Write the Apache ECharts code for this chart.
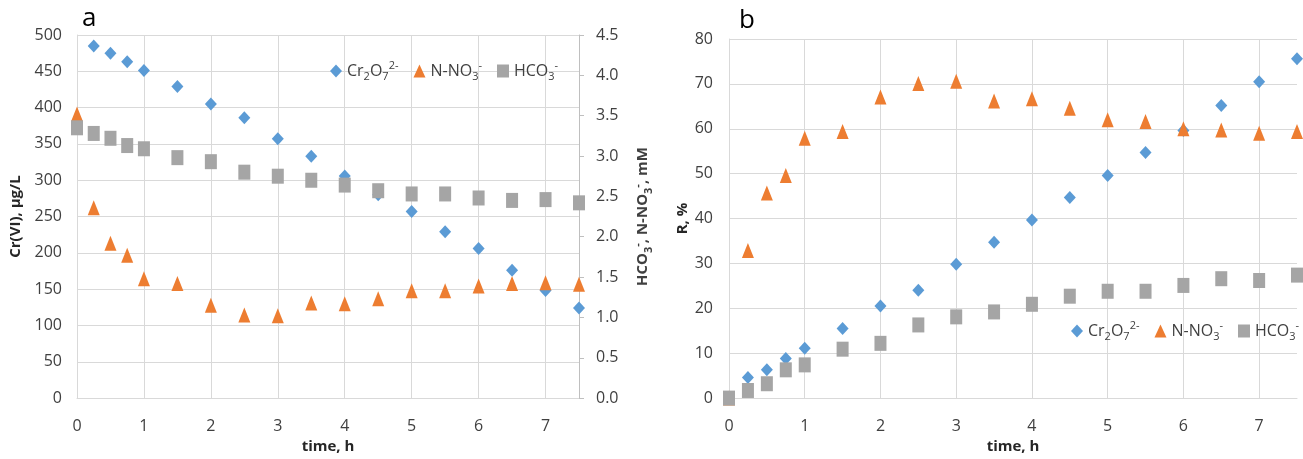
<!DOCTYPE html>
<html>
<head>
<meta charset="utf-8">
<script src="https://cdn.jsdelivr.net/npm/echarts@6/dist/echarts.min.js"></script>
<style>
  html, body { margin: 0; padding: 0; background: #fff; }
  #chart { width: 1303px; height: 459px; }
</style>
</head>
<body>
<div id="chart"></div>
<script>
// sampling times, h
const hours = [0, 0.25, 0.5, 0.75, 1, 1.5, 2, 2.5, 3, 3.5, 4, 4.5, 5, 5.5, 6, 6.5, 7, 7.5]

// panel a: concentrations
const crConc = [null, 485, 475, 463, 451, 429, 405, 386, 357, 333, 306, 280, 257, 229, 206, 176, 148, 124] // µg/L
const no3Conc = [3.52, 2.36, 1.92, 1.77, 1.48, 1.42, 1.15, 1.03, 1.02, 1.18, 1.17, 1.23, 1.33, 1.33, 1.39, 1.42, 1.43, 1.41] // mM
const hco3Conc = [3.35, 3.28, 3.22, 3.13, 3.09, 2.98, 2.93, 2.80, 2.75, 2.70, 2.64, 2.57, 2.53, 2.53, 2.48, 2.45, 2.46, 2.42] // mM

// panel b: removal, %
const crR = [0, 4.6, 6.3, 8.8, 11.1, 15.5, 20.5, 24.0, 29.8, 34.7, 39.7, 44.7, 49.6, 54.7, 59.6, 65.2, 70.5, 75.6]
const no3R = [0, 32.9, 45.7, 49.6, 57.9, 59.4, 67.1, 70.1, 70.6, 66.2, 66.7, 64.6, 62.0, 61.6, 60.0, 59.7, 59.0, 59.4]
const hco3R = [0, 1.7, 3.2, 6.3, 7.4, 10.9, 12.2, 16.3, 18.1, 19.2, 20.9, 22.7, 23.8, 23.8, 25.1, 26.6, 26.2, 27.4]

const seriesNames = ['Cr2O7', 'N-NO3', 'HCO3']
const legendText = {
  'Cr2O7': '{t|Cr}{sub|2}{t|O}{sub|7}{sup|2-}',
  'N-NO3': '{t|N-NO}{sub|3}{sup|-}',
  'HCO3': '{t|HCO}{sub|3}{sup|-}',
}

const FONT = 'Open Sans'
const GRID = '#D9D9D9'
const LABEL = '#404040'
const colors = ['#5B9BD5', '#ED7D31', '#A5A5A5']
const symbols = ['diamond', 'triangle', 'rect']
const sizes = [[12, 13], [12, 15], [12, 15]]

const pairs = (ys) => hours.map((h, i) => [h, ys[i]]).filter((p) => p[1] != null)

const richText = (size, weight) => ({
  t: { fontFamily: FONT, fontSize: size, fontWeight: weight, color: LABEL, lineHeight: 22 },
  sub: { fontFamily: FONT, fontSize: 11, fontWeight: weight, color: LABEL, verticalAlign: 'bottom', lineHeight: 22 },
  sup: { fontFamily: FONT, fontSize: 11, fontWeight: weight, color: LABEL, verticalAlign: 'top', lineHeight: 22 },
})

const xAxisFor = (gridIndex) => ({
  type: 'value',
  gridIndex,
  min: 0,
  max: 7.5,
  interval: 1,
  name: 'time, h',
  nameLocation: 'middle',
  nameGap: 40,
  nameTextStyle: { fontFamily: FONT, fontSize: 15, fontWeight: 'bold', color: '#262626' },
  axisLine: { show: true, lineStyle: { color: GRID } },
  axisTick: { show: false },
  axisLabel: { fontFamily: FONT, fontSize: 16, color: LABEL, margin: 20, showMaxLabel: false },
  splitLine: { show: true, showMaxLine: false, lineStyle: { color: GRID } },
})

const legendFor = (left, top) => ({
  data: seriesNames,
  left,
  top,
  width: 260,
  padding: 0,
  itemWidth: 12,
  itemHeight: 13,
  itemGap: 15,
  selectedMode: false,
  formatter: (n) => legendText[n],
  textStyle: { fontFamily: FONT, fontSize: 16, color: LABEL, rich: richText(16, 'normal') },
})

const chart = echarts.init(document.getElementById('chart'), null, { renderer: 'canvas' })

const symbolSeries = (name, i, data, xAxisIndex, yAxisIndex) => ({
  name,
  type: 'scatter',
  xAxisIndex,
  yAxisIndex,
  data,
  symbol: symbols[i],
  symbolSize: sizes[i],
  clip: false,
  itemStyle: { color: colors[i], opacity: 1 },
})

const option = {
  animation: false,
  backgroundColor: '#fff',
  color: colors,
  title: [
    { text: 'a', left: 82, top: 6, padding: 0, textStyle: { fontFamily: FONT, fontSize: 26, fontWeight: 'normal', color: '#000' } },
    { text: 'b', left: 739, top: 8, padding: 0, textStyle: { fontFamily: FONT, fontSize: 26, fontWeight: 'normal', color: '#000' } },
  ],
  legend: [legendFor(330, 60), legendFor(1071, 320)],
  grid: [
    { left: 77, right: 724, top: 35, bottom: 60 },
    { left: 729, right: 6, top: 39, bottom: 58 },
  ],
  xAxis: [xAxisFor(0), xAxisFor(1)],
  yAxis: [
    {
      type: 'value',
      gridIndex: 0,
      position: 'left',
      min: 0,
      max: 500,
      interval: 50,
      name: 'Cr(VI), μg/L',
      nameLocation: 'middle',
      nameGap: 54,
      nameTextStyle: { fontFamily: FONT, fontSize: 15, fontWeight: 'bold', color: '#262626' },
      axisLine: { show: true, lineStyle: { color: GRID } },
      axisTick: { show: false },
      axisLabel: { fontFamily: FONT, fontSize: 16, color: LABEL, margin: 15 },
      splitLine: { show: true, lineStyle: { color: GRID } },
    },
    {
      type: 'value',
      gridIndex: 0,
      position: 'right',
      min: 0,
      max: 4.5,
      interval: 0.5,
      name: '{t|HCO}{sub|3}{sup|-}{t|, N-NO}{sub|3}{sup|-}{t|, mM}',
      nameLocation: 'middle',
      nameGap: 53,
      nameRotate: 90,
      nameTextStyle: { rich: richText(15, 'bold') },
      axisLine: { show: true, lineStyle: { color: '#BFBFBF' } },
      axisTick: { show: true, inside: false, length: 5, lineStyle: { color: '#BFBFBF' } },
      axisLabel: { fontFamily: FONT, fontSize: 16, color: LABEL, margin: 17, formatter: (v) => v.toFixed(1) },
      splitLine: { show: false },
    },
    {
      type: 'value',
      gridIndex: 1,
      position: 'left',
      min: 0,
      max: 80,
      interval: 10,
      name: 'R, %',
      nameLocation: 'middle',
      nameGap: 39,
      nameTextStyle: { fontFamily: FONT, fontSize: 15, fontWeight: 'bold', color: '#262626' },
      axisLine: { show: true, lineStyle: { color: GRID } },
      axisTick: { show: false },
      axisLabel: { fontFamily: FONT, fontSize: 16, color: LABEL, margin: 16 },
      splitLine: { show: true, lineStyle: { color: GRID } },
    },
  ],
  series: [
    symbolSeries('Cr2O7', 0, pairs(crConc), 0, 0),
    symbolSeries('N-NO3', 1, pairs(no3Conc), 0, 1),
    symbolSeries('HCO3', 2, pairs(hco3Conc), 0, 1),
    symbolSeries('Cr2O7', 0, pairs(crR), 1, 2),
    symbolSeries('N-NO3', 1, pairs(no3R), 1, 2),
    symbolSeries('HCO3', 2, pairs(hco3R), 1, 2),
  ],
}

chart.setOption(option)
</script>
</body>
</html>
